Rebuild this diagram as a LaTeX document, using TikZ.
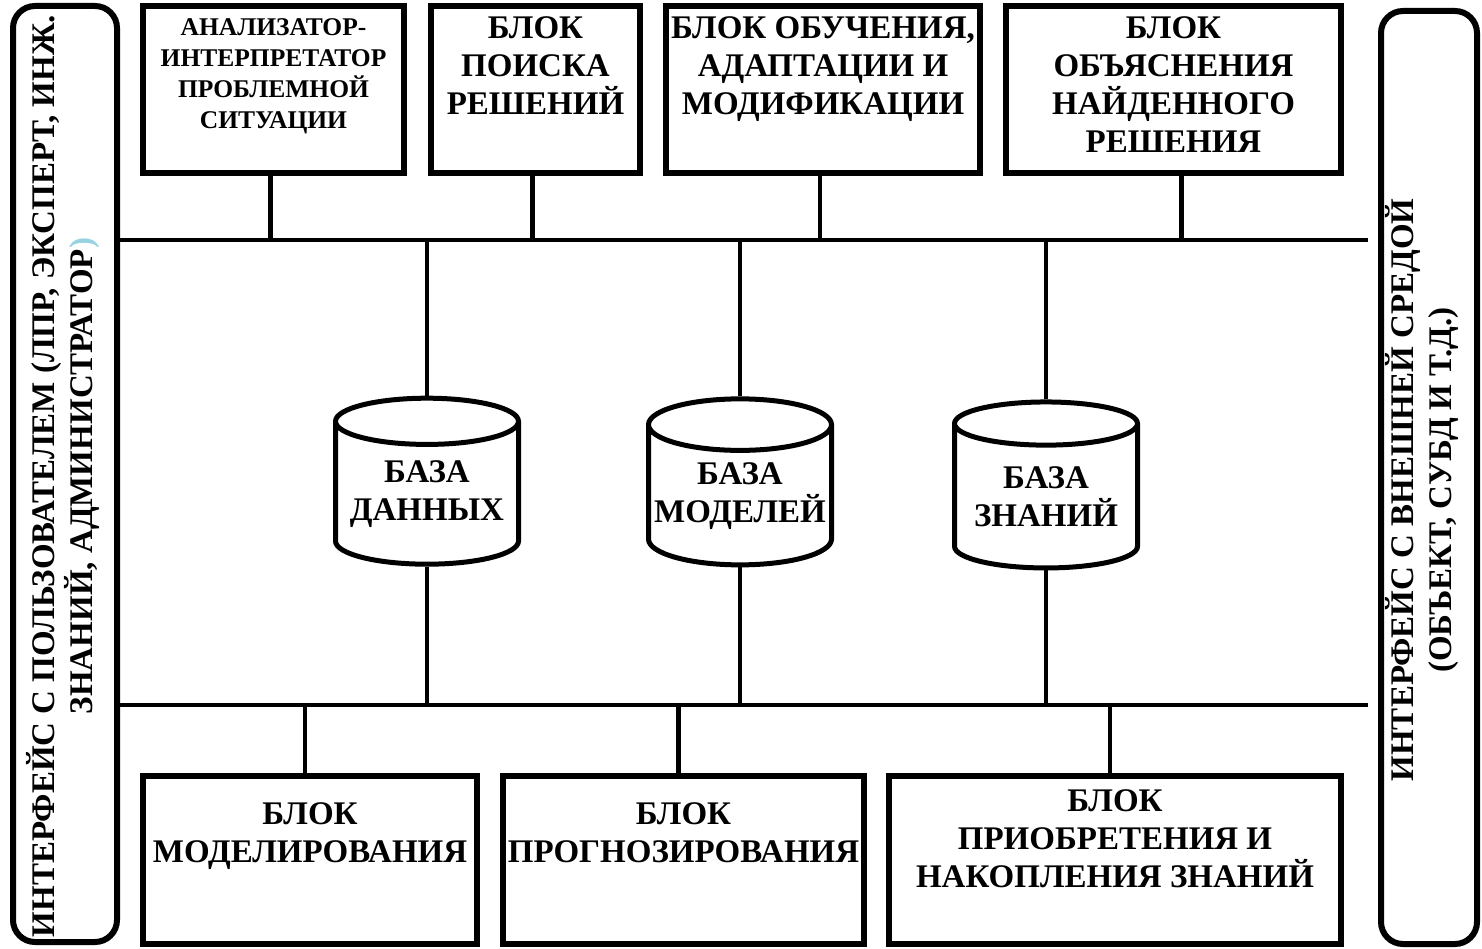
\documentclass[tikz,border=0pt]{standalone}
\usepackage{fontspec}
\setmainfont{Liberation Serif}
\usetikzlibrary{shapes.geometric,positioning}
\definecolor{svetlo}{RGB}{150,210,225}
\begin{document}
\begin{tikzpicture}[x=1pt,y=-1pt,
blok/.style={draw,line width=6pt,inner sep=0pt},
bol/.style={font=\fontsize{33}{38}\selectfont\bfseries,align=center,inner sep=0pt},
mal/.style={font=\fontsize{25.5}{31}\selectfont\bfseries,align=center,inner sep=0pt},
baza/.style={draw,cylinder,shape border rotate=90,aspect=0.3,line width=5pt,
  minimum width=183pt,minimum height=166pt,inner sep=0pt,bol},
shina/.style={line width=4.5pt}]
\useasboundingbox (0,0) rectangle (1482,949);
\node[blok,rounded corners=22pt,minimum width=104pt,minimum height=936pt] (polz) at (65,474) {};
\node[bol,rotate=90] (polzt) at (63,476)
{ИНТЕРФЕЙС С ПОЛЬЗОВАТЕЛЕМ (ЛПР, ЭКСПЕРТ, ИНЖ.\\ЗНАНИЙ, АДМИНИСТРАТОР\textcolor{svetlo}{)}};
\node[blok,rounded corners=22pt,minimum width=96pt,minimum height=933pt] (sreda) at (1429,477.5) {};
\node[bol,rotate=90] (sredat) at (1422,490)
{ИНТЕРФЕЙС С ВНЕШНЕЙ СРЕДОЙ\\(ОБЪЕКТ, СУБД И Т.Д.)};
\node[blok,minimum width=261pt,minimum height=167pt] (analiz) at (273.5,89.5) {};
\node[blok,minimum width=209pt,minimum height=167pt] (poisk) at (535.5,89.5) {};
\node[blok,minimum width=314pt,minimum height=167pt] (obuch) at (823,89.5) {};
\node[blok,minimum width=335pt,minimum height=167pt] (obyasn) at (1173.5,89.5) {};
\node[mal,below=15pt of analiz.north] (analizt) {АНАЛИЗАТОР-\\ИНТЕРПРЕТАТОР\\ПРОБЛЕМНОЙ\\СИТУАЦИИ};
\node[bol,below=13pt of poisk.north] (poiskt) {БЛОК\\ПОИСКА\\РЕШЕНИЙ};
\node[bol,below=13pt of obuch.north] (obucht) {БЛОК ОБУЧЕНИЯ,\\АДАПТАЦИИ И\\МОДИФИКАЦИИ};
\node[bol,below=13pt of obyasn.north] (obyasnt) {БЛОК\\ОБЪЯСНЕНИЯ\\НАЙДЕННОГО\\РЕШЕНИЯ};
\node[baza] (bd) at (427,494) {БАЗА\\ДАННЫХ};
\node[baza] (bm) at (740,496) {БАЗА\\МОДЕЛЕЙ};
\node[baza] (bz) at (1046,497) {БАЗА\\ЗНАНИЙ};
\node[blok,minimum width=334pt,minimum height=168pt] (modelir) at (310,860) {};
\node[blok,minimum width=361pt,minimum height=168pt] (prognoz) at (683.5,860) {};
\node[blok,minimum width=452pt,minimum height=168pt] (priobr) at (1115,860) {};
\node[bol,below=29pt of modelir.north] (modelirt) {БЛОК\\МОДЕЛИРОВАНИЯ};
\node[bol,below=29pt of prognoz.north] (prognozt) {БЛОК\\ПРОГНОЗИРОВАНИЯ};
\node[bol,below=16pt of priobr.north] (priobrt) {БЛОК\\ПРИОБРЕТЕНИЯ И\\НАКОПЛЕНИЯ ЗНАНИЙ};
\coordinate (tl) at (polz.east |- 0,240);
\coordinate (tr) at (1368,240);
\coordinate (bl) at (polz.east |- 0,705);
\coordinate (br) at (1368,705);
\draw[shina] (tl) -- (tr);
\draw[shina] (bl) -- (br);
\foreach \b in {analiz,poisk,obuch}
  \draw[shina] ([xshift=-3pt]\b.south) -- ([xshift=-3pt]\b.south |- tl);
\draw[shina] ([xshift=8pt]obyasn.south) -- ([xshift=8pt]obyasn.south |- tl);
\foreach \c in {bd,bm,bz} {
  \draw[shina] (\c.north) -- (\c.north |- tl);
  \draw[shina] (\c.south) -- (\c.south |- bl);
}
\foreach \b in {modelir,prognoz,priobr}
  \draw[shina] ([xshift=-5pt]\b.north) -- ([xshift=-5pt]\b.north |- bl);
\end{tikzpicture}
\end{document}
